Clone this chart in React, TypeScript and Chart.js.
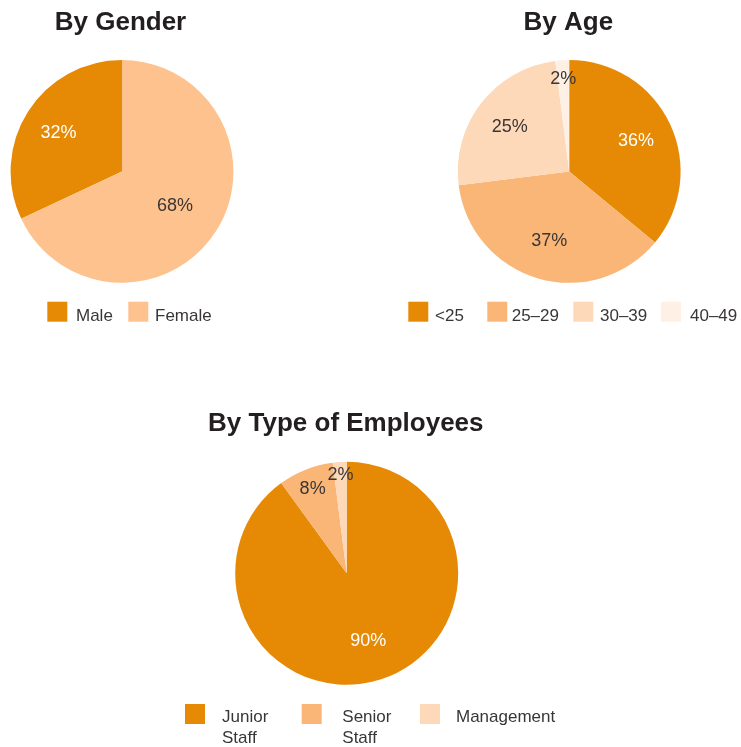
import React, { useEffect, useRef } from "react";
import { Chart, registerables } from "chart.js";

Chart.register(...registerables);

// ---------- data ----------
const genderLabels = ["Male", "Female"];
const genderValues = [32, 68];

const ageLabels = ["<25", "25–29", "30–39", "40–49"];
const ageValues = [36, 37, 25, 2];

const typeLabels = ["Junior Staff", "Senior Staff", "Management"];
const typeValues = [90, 8, 2];

// ---------- styles ----------
const genderColors = ["#E68A06", "#FDC28D"];
const ageColors = ["#E68A06", "#F9B676", "#FDD9B9", "#FEF0E5"];
const typeColors = ["#E68A06", "#F9B676", "#FDD9B9"];

const FONT = '"Liberation Sans", Arial, Helvetica, sans-serif';
const TEXT_DARK = "#3a3636";
const TITLE_COLOR = "#231f20";
const W = 741;
const H = 747;

type Decor = {
  title: string;
  titleX: number;
  titleY: number;
  labelRadius: number[];
  labelColors: string[];
  boxX: number[];
  textX: number[];
  boxY: number;
  textY: number;
  wrapWidth: number;
};

const decorPlugin = {
  id: "decor",
  afterDraw(chart: any, _args: any, opts: Decor) {
    const ctx = chart.ctx as CanvasRenderingContext2D;
    const ds = chart.data.datasets[0];
    const data = ds.data as number[];
    const colors = ds.backgroundColor as string[];
    const labels = chart.data.labels as string[];
    const total = data.reduce((a, b) => a + b, 0);
    const meta = chart.getDatasetMeta(0);

    ctx.save();
    // title
    ctx.font = `bold 26px ${FONT}`;
    ctx.fillStyle = TITLE_COLOR;
    ctx.textAlign = "center";
    ctx.textBaseline = "alphabetic";
    ctx.fillText(opts.title, opts.titleX, opts.titleY);

    // slice labels
    const fs = 18;
    ctx.font = `${fs}px ${FONT}`;
    meta.data.forEach((arc: any, i: number) => {
      const p = arc.getProps(["x", "y", "startAngle", "endAngle", "outerRadius"], true);
      const mid = (p.startAngle + p.endAngle) / 2;
      const rr = p.outerRadius * opts.labelRadius[i];
      ctx.fillStyle = opts.labelColors[i];
      ctx.fillText(
        Math.round((data[i] / total) * 100) + "%",
        p.x + Math.cos(mid) * rr,
        p.y + Math.sin(mid) * rr + fs * 0.36
      );
    });

    // legend
    ctx.font = `17px ${FONT}`;
    ctx.textAlign = "left";
    labels.forEach((lab, i) => {
      ctx.fillStyle = colors[i];
      ctx.fillRect(opts.boxX[i], opts.boxY, 20, 20);
      const words = lab.split(" ");
      const lines: string[] = [];
      let cur = "";
      words.forEach((w) => {
        const t = cur ? cur + " " + w : w;
        if (cur && ctx.measureText(t).width > opts.wrapWidth) {
          lines.push(cur);
          cur = w;
        } else cur = t;
      });
      if (cur) lines.push(cur);
      ctx.fillStyle = TEXT_DARK;
      lines.forEach((ln, k) => ctx.fillText(ln, opts.textX[i], opts.textY + k * 21.6));
    });
    ctx.restore();
  },
};

type PieProps = {
  labels: string[];
  values: number[];
  colors: string[];
  cx: number;
  cy: number;
  r: number;
  rotation: number;
  decor: Decor;
};

function PieCanvas(props: PieProps) {
  const ref = useRef<HTMLCanvasElement>(null);
  useEffect(() => {
    const { labels, values, colors, cx, cy, r, rotation, decor } = props;
    const chart = new Chart(ref.current as HTMLCanvasElement, {
      type: "pie",
      data: {
        labels,
        datasets: [
          {
            data: values,
            backgroundColor: colors,
            borderWidth: 0,
          },
        ],
      },
      options: {
        responsive: false,
        animation: false,
        devicePixelRatio: 1,
        rotation,
        layout: {
          padding: {
            left: cx - r,
            top: cy - r,
            right: W - (cx + r),
            bottom: H - (cy + r),
          },
        },
        plugins: {
          legend: { display: false },
          title: { display: false },
          tooltip: { enabled: false },
          decor,
        } as any,
      },
      plugins: [decorPlugin],
    });
    return () => chart.destroy();
  }, []);
  return (
    <canvas
      ref={ref}
      width={W}
      height={H}
      style={{ position: "absolute", left: 0, top: 0 }}
    />
  );
}

export default function App() {
  const genderTotal = genderValues.reduce((a, b) => a + b, 0);
  return (
    <div style={{ position: "absolute", left: 0, top: 0, width: W, height: H, background: "#fff" }}>
      <PieCanvas
        labels={genderLabels}
        values={genderValues}
        colors={genderColors}
        cx={122}
        cy={171.4}
        r={111.4}
        rotation={(genderValues[1] / genderTotal) * 360}
        decor={{
          title: "By Gender",
          titleX: 120.5,
          titleY: 30,
          labelRadius: [0.676, 0.563],
          labelColors: ["#ffffff", TEXT_DARK],
          boxX: [47.3, 128.3],
          textX: [76, 155],
          boxY: 301.7,
          textY: 320.7,
          wrapWidth: 1000,
        }}
      />
      <PieCanvas
        labels={ageLabels}
        values={ageValues}
        colors={ageColors}
        cx={569.2}
        cy={171.4}
        r={111.4}
        rotation={0}
        decor={{
          title: "By Age",
          titleX: 568.3,
          titleY: 29.6,
          labelRadius: [0.663, 0.64, 0.675, 0.843],
          labelColors: ["#ffffff", TEXT_DARK, TEXT_DARK, TEXT_DARK],
          boxX: [408.3, 487.3, 573.3, 661],
          textX: [435, 511.7, 600, 690],
          boxY: 301.7,
          textY: 320.7,
          wrapWidth: 1000,
        }}
      />
      <PieCanvas
        labels={typeLabels}
        values={typeValues}
        colors={typeColors}
        cx={346.7}
        cy={573.3}
        r={111.5}
        rotation={0}
        decor={{
          title: "By Type of Employees",
          titleX: 345.8,
          titleY: 430.7,
          labelRadius: [0.625, 0.83, 0.9],
          labelColors: ["#ffffff", TEXT_DARK, TEXT_DARK],
          boxX: [185, 301.7, 420],
          textX: [222, 342.3, 456],
          boxY: 704,
          textY: 721.7,
          wrapWidth: 60,
        }}
      />
    </div>
  );
}
